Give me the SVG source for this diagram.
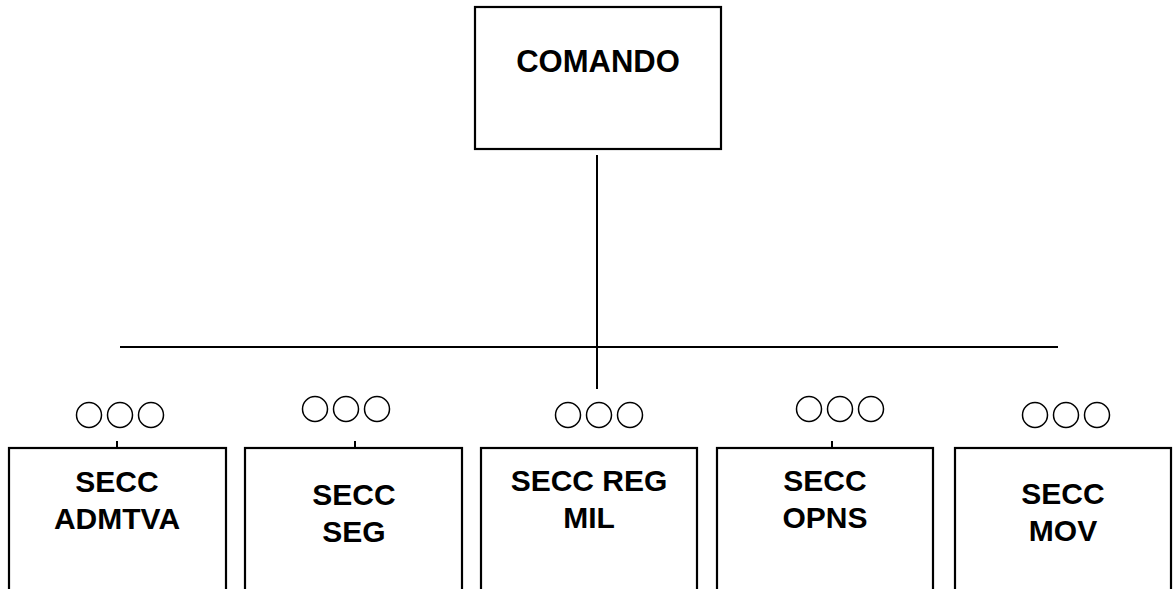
<svg xmlns="http://www.w3.org/2000/svg" width="1175" height="589" viewBox="0 0 1175 589">
<style>
.box{fill:#fff;stroke:#000;stroke-width:2.2}
.ln{stroke:#000;stroke-width:2;fill:none}
.c{fill:none;stroke:#000;stroke-width:1.5}
.t{font-family:"Liberation Sans",Arial,sans-serif;font-weight:bold;font-size:30px;text-anchor:middle;fill:#000}
</style>
<rect width="1175" height="589" fill="#fff"/>
<g id="connectors">
<line class="ln" x1="597" y1="155" x2="597" y2="389"/>
<line class="ln" x1="120" y1="347" x2="1058" y2="347"/>
<line class="ln" x1="117" y1="441" x2="117" y2="448"/>
<line class="ln" x1="355" y1="441" x2="355" y2="448"/>
<line class="ln" x1="832" y1="441" x2="832" y2="448"/>
</g>
<g id="comando">
<rect class="box" x="475" y="7" width="246" height="142"/>
<text class="t" x="598" y="72" style="font-size:31px">COMANDO</text>
</g>
<g id="circles1"><circle class="c" cx="89" cy="415" r="12.5"/><circle class="c" cx="120" cy="415" r="12.5"/><circle class="c" cx="151" cy="415" r="12.5"/></g>
<g id="circles2"><circle class="c" cx="315" cy="409" r="12.5"/><circle class="c" cx="346" cy="409" r="12.5"/><circle class="c" cx="377" cy="409" r="12.5"/></g>
<g id="circles3"><circle class="c" cx="568" cy="415" r="12.5"/><circle class="c" cx="599" cy="415" r="12.5"/><circle class="c" cx="630" cy="415" r="12.5"/></g>
<g id="circles4"><circle class="c" cx="809" cy="409" r="12.5"/><circle class="c" cx="840" cy="409" r="12.5"/><circle class="c" cx="871" cy="409" r="12.5"/></g>
<g id="circles5"><circle class="c" cx="1035" cy="415" r="12.5"/><circle class="c" cx="1066" cy="415" r="12.5"/><circle class="c" cx="1097" cy="415" r="12.5"/></g>
<g id="secc-admtva">
<rect class="box" x="9" y="448" width="217" height="160"/>
<text class="t" x="117" y="492">SECC</text>
<text class="t" x="117" y="529">ADMTVA</text>
</g>
<g id="secc-seg">
<rect class="box" x="245" y="448" width="217" height="160"/>
<text class="t" x="354" y="505">SECC</text>
<text class="t" x="354" y="542">SEG</text>
</g>
<g id="secc-reg-mil">
<rect class="box" x="481" y="448" width="216" height="160"/>
<text class="t" x="589" y="491">SECC REG</text>
<text class="t" x="589" y="528">MIL</text>
</g>
<g id="secc-opns">
<rect class="box" x="717" y="448" width="216" height="160"/>
<text class="t" x="825" y="491">SECC</text>
<text class="t" x="825" y="528">OPNS</text>
</g>
<g id="secc-mov">
<rect class="box" x="955" y="448" width="216" height="160"/>
<text class="t" x="1063" y="504">SECC</text>
<text class="t" x="1063" y="541">MOV</text>
</g>
</svg>
